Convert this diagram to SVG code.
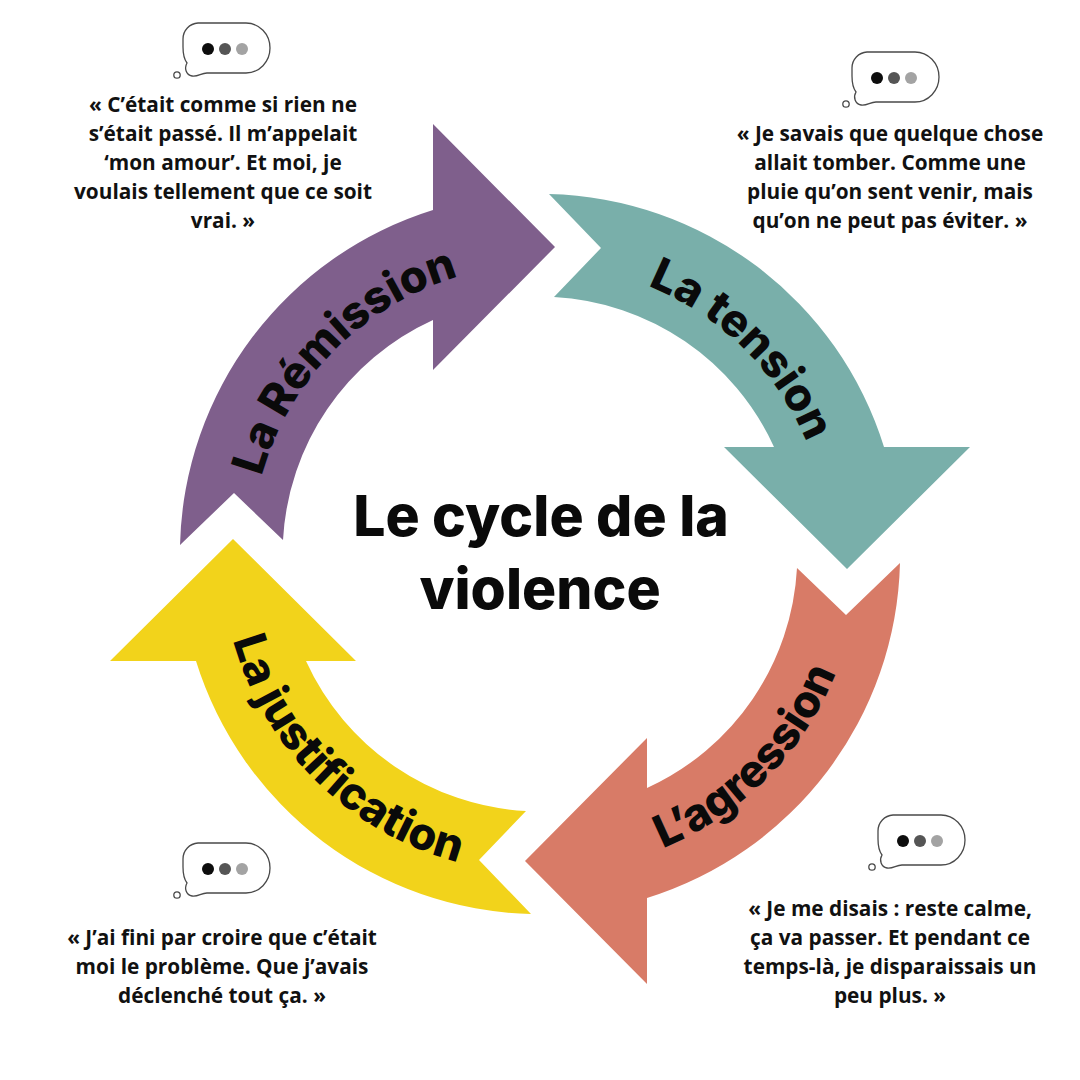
<svg xmlns="http://www.w3.org/2000/svg" xmlns:xlink="http://www.w3.org/1999/xlink" width="1080" height="1080" viewBox="0 0 1080 1080">
  <style>
    .label { font-family: Inter, "Liberation Sans", sans-serif; font-weight: 800; font-size: 45px; fill: #0a0a0a; }
    .title { font-family: Inter, "Liberation Sans", sans-serif; font-weight: 800; font-size: 57px; fill: #0a0a0a; text-anchor: middle; }
    .quote { font-family: "Open Sans", "Liberation Sans", sans-serif; font-weight: 700; font-size: 20.8px; fill: #111111; text-anchor: middle; }
    .bubble { fill: #ffffff; stroke: #4a4a4a; stroke-width: 1.3; }
  </style>
  <defs>
    <path id="arrowShape" d="M180,545 A360,360 0 0 1 433,210 L433,124 L555,247 L433,370 L433,320 A257,257 0 0 0 283,540 L234,493 Z"/>
    <path id="arcOut" d="M278.9,678 A289,289 0 0 1 660.3,291.2" fill="none"/>
    <path id="arcIn" d="M407.2,844 A319,319 0 0 0 828.2,417.2" fill="none"/>
    <g id="bubbleIcon">
      <path class="bubble" d="M15,0 H63 A24,25 0 0 1 63,50 H24 C18,50 15,54 9,53 C3,52 1,45 4,40 C1,36 0,30 0,24 V16 A16,16 0 0 1 15,0 Z"/>
      <circle class="bubble" cx="-6" cy="52" r="3.2"/>
      <circle cx="25" cy="26" r="6" fill="#0d0d0d"/>
      <circle cx="42" cy="26" r="6" fill="#555555"/>
      <circle cx="59" cy="26" r="6" fill="#a3a3a3"/>
    </g>
  </defs>
  <rect width="1080" height="1080" fill="#ffffff"/>

  <g id="connectors"/>

  <g id="remission">
    <use xlink:href="#arrowShape" href="#arrowShape" fill="#7f5f8c"/>
    <text class="label"><textPath xlink:href="#arcOut" href="#arcOut" startOffset="50%" text-anchor="middle">La Rémission</textPath></text>
  </g>

  <g id="tension" transform="rotate(90 540 554)">
    <use xlink:href="#arrowShape" href="#arrowShape" fill="#79afaa"/>
    <text class="label"><textPath xlink:href="#arcOut" href="#arcOut" startOffset="50%" text-anchor="middle">La tension</textPath></text>
  </g>

  <g id="agression">
    <use xlink:href="#arrowShape" href="#arrowShape" fill="#d87b67" transform="rotate(180 540 554)"/>
    <text class="label"><textPath xlink:href="#arcIn" href="#arcIn" startOffset="50%" text-anchor="middle">L’agression</textPath></text>
  </g>

  <g id="justification">
    <use xlink:href="#arrowShape" href="#arrowShape" fill="#f2d31b" transform="rotate(270 540 554)"/>
    <text class="label" transform="rotate(90 540 554)"><textPath xlink:href="#arcIn" href="#arcIn" startOffset="50%" text-anchor="middle">La justification</textPath></text>
  </g>

  <g id="title">
    <text class="title" x="541" y="536">Le cycle de la</text>
    <text class="title" x="540" y="609">violence</text>
  </g>

  <g id="quote-remission">
    <use xlink:href="#bubbleIcon" href="#bubbleIcon" transform="translate(183,23)"/>
    <text class="quote" x="223" y="112">« C’était comme si rien ne</text>
    <text class="quote" x="223" y="141">s’était passé. Il m’appelait</text>
    <text class="quote" x="223" y="170">‘mon amour’. Et moi, je</text>
    <text class="quote" x="223" y="199">voulais tellement que ce soit</text>
    <text class="quote" x="223" y="228">vrai. »</text>
  </g>

  <g id="quote-tension">
    <use xlink:href="#bubbleIcon" href="#bubbleIcon" transform="translate(852,52)"/>
    <text class="quote" x="890" y="141">« Je savais que quelque chose</text>
    <text class="quote" x="890" y="170">allait tomber. Comme une</text>
    <text class="quote" x="890" y="199">pluie qu’on sent venir, mais</text>
    <text class="quote" x="890" y="228">qu’on ne peut pas éviter. »</text>
  </g>

  <g id="quote-agression">
    <use xlink:href="#bubbleIcon" href="#bubbleIcon" transform="translate(878,815)"/>
    <text class="quote" x="890" y="916">« Je me disais : reste calme,</text>
    <text class="quote" x="890" y="945">ça va passer. Et pendant ce</text>
    <text class="quote" x="890" y="974">temps-là, je disparaissais un</text>
    <text class="quote" x="890" y="1003">peu plus. »</text>
  </g>

  <g id="quote-justification">
    <use xlink:href="#bubbleIcon" href="#bubbleIcon" transform="translate(183,843)"/>
    <text class="quote" x="222" y="945">« J’ai fini par croire que c’était</text>
    <text class="quote" x="222" y="974">moi le problème. Que j’avais</text>
    <text class="quote" x="222" y="1003">déclenché tout ça. »</text>
  </g>
</svg>
